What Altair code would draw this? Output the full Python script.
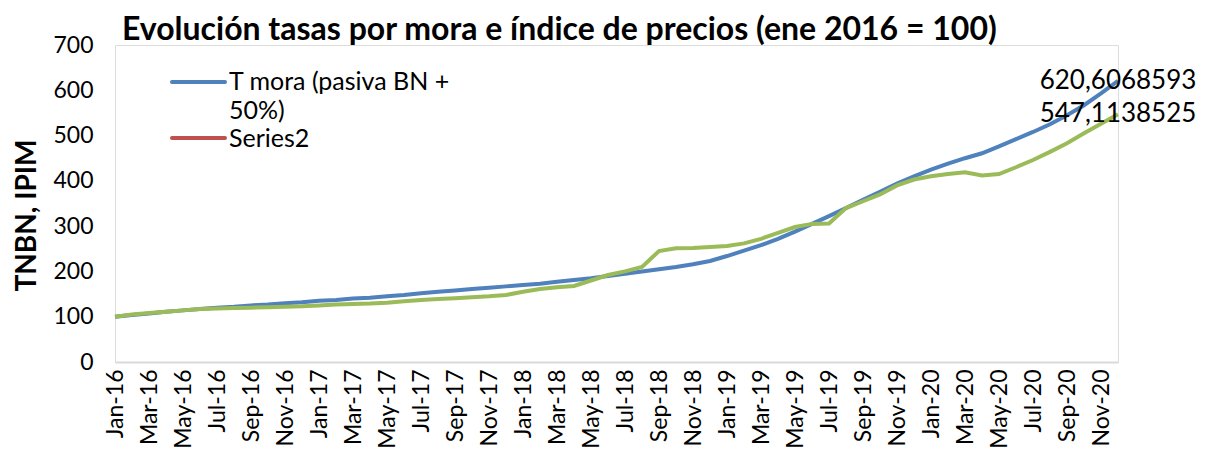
import altair as alt
import pandas as pd

month_names = ["Jan", "Feb", "Mar", "Apr", "May", "Jun", "Jul", "Aug", "Sep", "Oct", "Nov", "Dec"]
years = ["16", "17", "18", "19", "20"]
months = [f"{m}-{y}" for y in years for m in month_names]

t_mora = [100, 104, 107, 111, 114, 117, 120, 122, 125, 127, 130, 132,
          135, 137, 140, 142, 145, 148, 152, 155, 158, 161, 164, 167,
          170, 173, 177, 181, 185, 190, 195, 200, 205, 210, 216, 223,
          234, 246, 258, 272, 288, 305, 322, 340, 358, 376, 394, 410,
          425, 438, 450, 461, 476, 492, 508, 525, 545, 567, 593, 620.6068593]

ipim = [100, 105, 108, 111, 114, 117, 118, 119, 120, 121, 122, 123,
        125, 127, 128, 129, 131, 134, 137, 139, 141, 143, 145, 148,
        155, 161, 165, 168, 180, 192, 200, 210, 245, 251, 252, 254,
        256, 262, 272, 285, 298, 305, 306, 340, 355, 370, 390, 403,
        410, 415, 419, 412, 415, 430, 446, 464, 483, 505, 526, 547.1138525]

series_names = ["T mora (pasiva BN + 50%)", "IPIM"]
series_colors = ["#4F81BD", "#9BBB59"]
legend_red = "#C0504D"
y_ticks = [0, 100, 200, 300, 400, 500, 600, 700]
x_ticks = months[::2]

df = pd.DataFrame({
    "month": months * 2,
    "value": t_mora + ipim,
    "series": [series_names[0]] * len(months) + [series_names[1]] * len(months),
})
last = df[df["month"] == months[-1]].copy()
last["label"] = last["value"].map(lambda v: f"{v:.7f}".replace(".", ","))

FONT = "Lato"

x_enc = alt.X("month:N", sort=months,
              scale=alt.Scale(type="point", padding=0),
              axis=alt.Axis(values=x_ticks, title=None, labelAngle=270,
                            labelAlign="right", labelBaseline="middle",
                            labelPadding=7, labelFontSize=23, labelColor="black",
                            labelFont=FONT, ticks=False, domainColor="#D9D9D9",
                            domainWidth=2, grid=False))
y_enc = alt.Y("value:Q", scale=alt.Scale(domain=[0, 700], nice=False),
              axis=alt.Axis(values=y_ticks, title="TNBN, IPIM", grid=False,
                            domain=False, ticks=False, labelFontSize=23,
                            labelPadding=22, labelColor="black", labelFont=FONT,
                            titleFont=FONT, titleFontSize=28, titleFontWeight="bold",
                            titleColor="black", titleX=-88, titleY=170,
                            titleAngle=270, titleAlign="center",
                            titleBaseline="middle"))
color_enc = alt.Color("series:N", scale=alt.Scale(domain=series_names, range=series_colors),
                      legend=None)

lines = alt.Chart(df).mark_line(strokeWidth=4).encode(x=x_enc, y=y_enc, color=color_enc)

end_labels = alt.Chart(last).mark_text(align="center", baseline="middle",
                                       fontSize=26, font=FONT, color="black").encode(
    x=alt.X("month:N", sort=months), y="value:Q", text="label:N")

one = pd.DataFrame({"a": [0]})
leg_blue = alt.Chart(one).mark_rule(strokeWidth=4, color=series_colors[0], strokeCap="round").encode(
    x=alt.value(57), x2=alt.value(110), y=alt.value(37))
leg_red = alt.Chart(one).mark_rule(strokeWidth=4, color=legend_red, strokeCap="round").encode(
    x=alt.value(57), x2=alt.value(110), y=alt.value(93))
leg_t1 = alt.Chart(one).mark_text(align="left", baseline="middle", fontSize=25, font=FONT,
                                  color="black").encode(
    x=alt.value(114), y=alt.value(37), text=alt.value("T mora (pasiva BN +"))
leg_t2 = alt.Chart(one).mark_text(align="left", baseline="middle", fontSize=25, font=FONT,
                                  color="black").encode(
    x=alt.value(114), y=alt.value(66), text=alt.value("50%)"))
leg_t3 = alt.Chart(one).mark_text(align="left", baseline="middle", fontSize=25, font=FONT,
                                  color="black").encode(
    x=alt.value(114), y=alt.value(94), text=alt.value("Series2"))

chart = alt.layer(lines, end_labels, leg_blue, leg_red, leg_t1, leg_t2, leg_t3).properties(
    width=1003, height=317,
    title=alt.TitleParams("Evolución tasas por mora e índice de precios (ene 2016 = 100)",
                          anchor="start", frame="group", dx=7, dy=23, fontSize=32,
                          font=FONT, fontWeight="bold", color="black", offset=10),
    autosize=alt.AutoSizeParams(type="none"),
    padding={"left": 107, "top": 37, "right": 80, "bottom": 88},
).configure_view(stroke=None).configure(font=FONT)

chart.save("out.html", embed_options={"renderer": "svg", "actions": False})
